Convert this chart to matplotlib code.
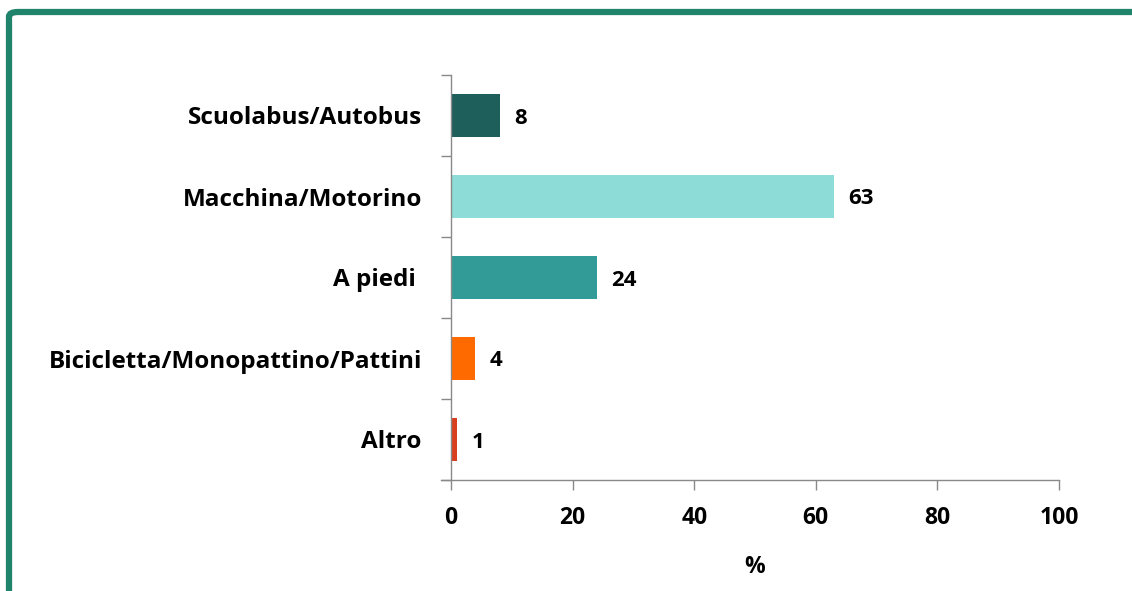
import numpy as np
import matplotlib
matplotlib.use('Agg')
import matplotlib.pyplot as plt
from matplotlib.patches import FancyBboxPatch

categories = ['Scuolabus/Autobus', 'Macchina/Motorino', 'A piedi ', 'Bicicletta/Monopattino/Pattini', 'Altro']
values = [8, 63, 24, 4, 1]
bar_colors = ['#1F5F5B', '#8EDCD7', '#339B97', '#FF6A00', '#D9411E']
xticks = [0, 20, 40, 60, 80, 100]

plt.rcParams['font.family'] = ['Open Sans', 'DejaVu Sans']
plt.rcParams['font.weight'] = 'bold'

fig = plt.figure(figsize=(11.32, 5.91), dpi=100)
ax = fig.add_axes([451/1132, 1 - 480/591, (1059-451)/1132, (480-75)/591])

# green frame (top + left, rounded corner)
frame = FancyBboxPatch((9/1132, -0.1), 1.2, 1 - 12/591 + 0.1,
                       boxstyle='round,pad=0,rounding_size=0.008',
                       transform=fig.transFigure, facecolor='none',
                       edgecolor='#20836B', linewidth=4.5, zorder=0)
fig.patches.append(frame)

y = np.arange(len(categories))
ax.barh(y, values, height=0.53, color=bar_colors, zorder=2)
for yi, v in zip(y, values):
    ax.text(v + 2.4, yi, str(v), va='center_baseline', ha='left', fontsize=16, fontweight='bold')

ax.set_xlim(0, 100)
ax.set_ylim(len(categories) - 0.5, -0.5)
ax.set_xticks(xticks)
ax.set_xticklabels([str(t) for t in xticks], fontsize=16.5, fontweight='bold')
ax.set_yticks(y)
ax.set_yticklabels(categories, fontsize=17.5, fontweight='bold')
ax.set_yticks(np.arange(-0.5, len(categories)), minor=True)
ax.tick_params(axis='y', which='major', length=0, pad=21)
ax.tick_params(axis='y', which='minor', length=7.5, width=1, color='#898989', direction='out')
ax.tick_params(axis='x', which='major', length=7, width=1, color='#898989', direction='out', pad=12)
ax.set_xlabel('%', fontsize=16.5, fontweight='bold', labelpad=18)

for s in ['top', 'right']:
    ax.spines[s].set_visible(False)
for s in ['left', 'bottom']:
    ax.spines[s].set_color('#898989')
    ax.spines[s].set_linewidth(1)
ax.spines['bottom'].set_bounds(-1.7, 100)

fig.savefig('out.png', dpi=100)
